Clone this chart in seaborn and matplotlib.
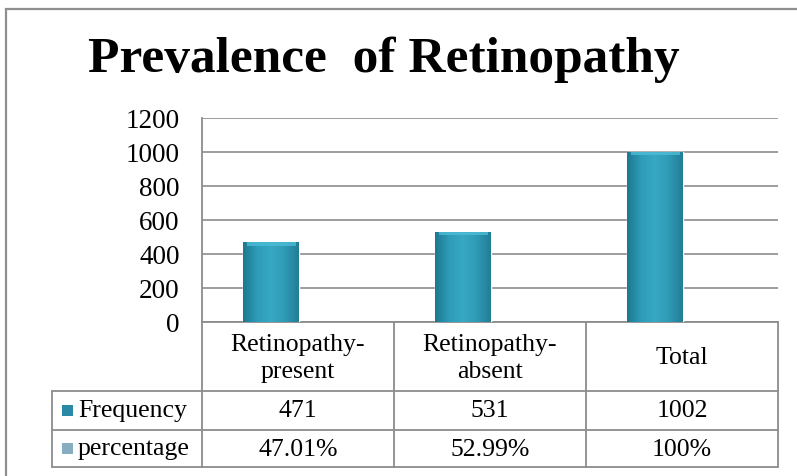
import numpy as np
import pandas as pd
import seaborn as sns
import matplotlib.pyplot as plt
import matplotlib.transforms as mtransforms
from matplotlib.patches import Rectangle
from matplotlib.lines import Line2D
from matplotlib.colors import LinearSegmentedColormap

# data
categories = ["Retinopathy-\npresent", "Retinopathy-\nabsent", "Total"]
frequency = [471, 531, 1002]
percentage = ["47.01%", "52.99%", "100%"]
series_names = ["Frequency", "percentage"]
y_ticks = [0, 200, 400, 600, 800, 1000, 1200]

df = pd.DataFrame({"category": categories, "Frequency": frequency})

sns.set_theme(style="white")
plt.rcParams["font.family"] = ["Liberation Serif", "DejaVu Serif"]
plt.rcParams["text.color"] = "black"
plt.rcParams["ytick.color"] = "black"
plt.rcParams["xtick.color"] = "black"

W, H = 797, 477
fig = plt.figure(figsize=(W / 100, H / 100), dpi=100)


def fx(px):
    return px / W


def fy(py):
    return 1 - py / H


grid_col = "#8c8c8c"

ax = fig.add_axes([fx(202), fy(323), fx(778) - fx(202), fy(119) - fy(323)])
sns.barplot(data=df, x="category", y="Frequency", color="#2f9cb8",
            width=0.29, ax=ax, zorder=3)

# excel 3d look: bars sit a little left of the category centre, shaded
cmap = LinearSegmentedColormap.from_list(
    "bar", ["#1f7891", "#2d9cb9", "#36a8c4", "#2f9ab6", "#237d96"])
grad = np.linspace(0, 1, 64).reshape(1, -1)
bevel_h = 22
for p in list(ax.patches):
    p.set_x(p.get_x() - 0.14)
    x0, w, h = p.get_x(), p.get_width(), p.get_height()
    im = ax.imshow(grad, extent=[x0, x0 + w, 0, h], aspect="auto",
                   cmap=cmap, zorder=4)
    im.set_clip_path(p)
    ax.add_patch(Rectangle((x0 + w * 0.06, h - bevel_h), w * 0.88, bevel_h,
                           color="#4dbdd6", zorder=5, lw=0, alpha=0.8))

ax.set_xlim(-0.5, len(categories) - 0.5)
ax.set_ylim(0, 1200)
ax.set_yticks(y_ticks)
ax.yaxis.grid(True, color=grid_col, lw=1.2)
ax.set_axisbelow(True)
ax.set_xlabel("")
ax.set_ylabel("")
ax.tick_params(axis="x", labelbottom=False, length=0)
ax.tick_params(axis="y", length=0, pad=16, labelsize=19.5, labelcolor="black")
for s in ["top", "right"]:
    ax.spines[s].set_visible(False)
for s in ["left", "bottom"]:
    ax.spines[s].set_color(grid_col)
    ax.spines[s].set_linewidth(1.3)

# data table under the plot
trans = mtransforms.blended_transform_factory(ax.transData, fig.transFigure)
row_top, row1, row2, row3 = 323, 392, 431, 468
lw = 1.3

for yy in [row1, row2, row3]:
    fig.add_artist(Line2D([fx(52), fx(778)], [fy(yy), fy(yy)],
                          color=grid_col, lw=lw))
fig.add_artist(Line2D([fx(52), fx(52)], [fy(row1), fy(row3)],
                      color=grid_col, lw=lw))
fig.add_artist(Line2D([fx(202), fx(202)], [fy(row_top), fy(row3)],
                      color=grid_col, lw=lw))
for i in range(len(categories)):
    xb = i + 0.5
    ax.plot([xb, xb], [fy(row_top), fy(row3)], transform=trans,
            color=grid_col, lw=lw, clip_on=False)

fs = 18.5
for i, cat in enumerate(categories):
    ax.text(i, fy((row_top + row1) / 2 + 1), cat, transform=trans,
            ha="center", va="center", fontsize=fs, linespacing=1.35,
            color="black")
    ax.text(i, fy((row1 + row2) / 2), str(frequency[i]), transform=trans,
            ha="center", va="center", fontsize=fs, color="black")
    ax.text(i, fy((row2 + row3) / 2), percentage[i], transform=trans,
            ha="center", va="center", fontsize=fs, color="black")

key_cols = ["#2a8aa6", "#86aec0"]
for name, col, (a, b) in zip(series_names, key_cols,
                             [(row1, row2), (row2, row3)]):
    yc = (a + b) / 2
    fig.add_artist(Rectangle((fx(62), fy(yc + 5.5)), fx(11), 11 / H,
                             color=col, lw=0))
    fig.text(fx(78), fy(yc), name, ha="left", va="center", fontsize=fs,
             color="black")

# title
fig.text(fx(384), fy(72), "Prevalence  of Retinopathy", ha="center",
         va="baseline", fontsize=37, fontweight="bold", color="black")

# chart frame, cut off at the right and bottom
fig.add_artist(Rectangle((fx(6), fy(490)), fx(800), (490 - 10) / H,
                         fill=False, ec="#8f8f8f", lw=1.6))

fig.savefig("out.png", dpi=100)
